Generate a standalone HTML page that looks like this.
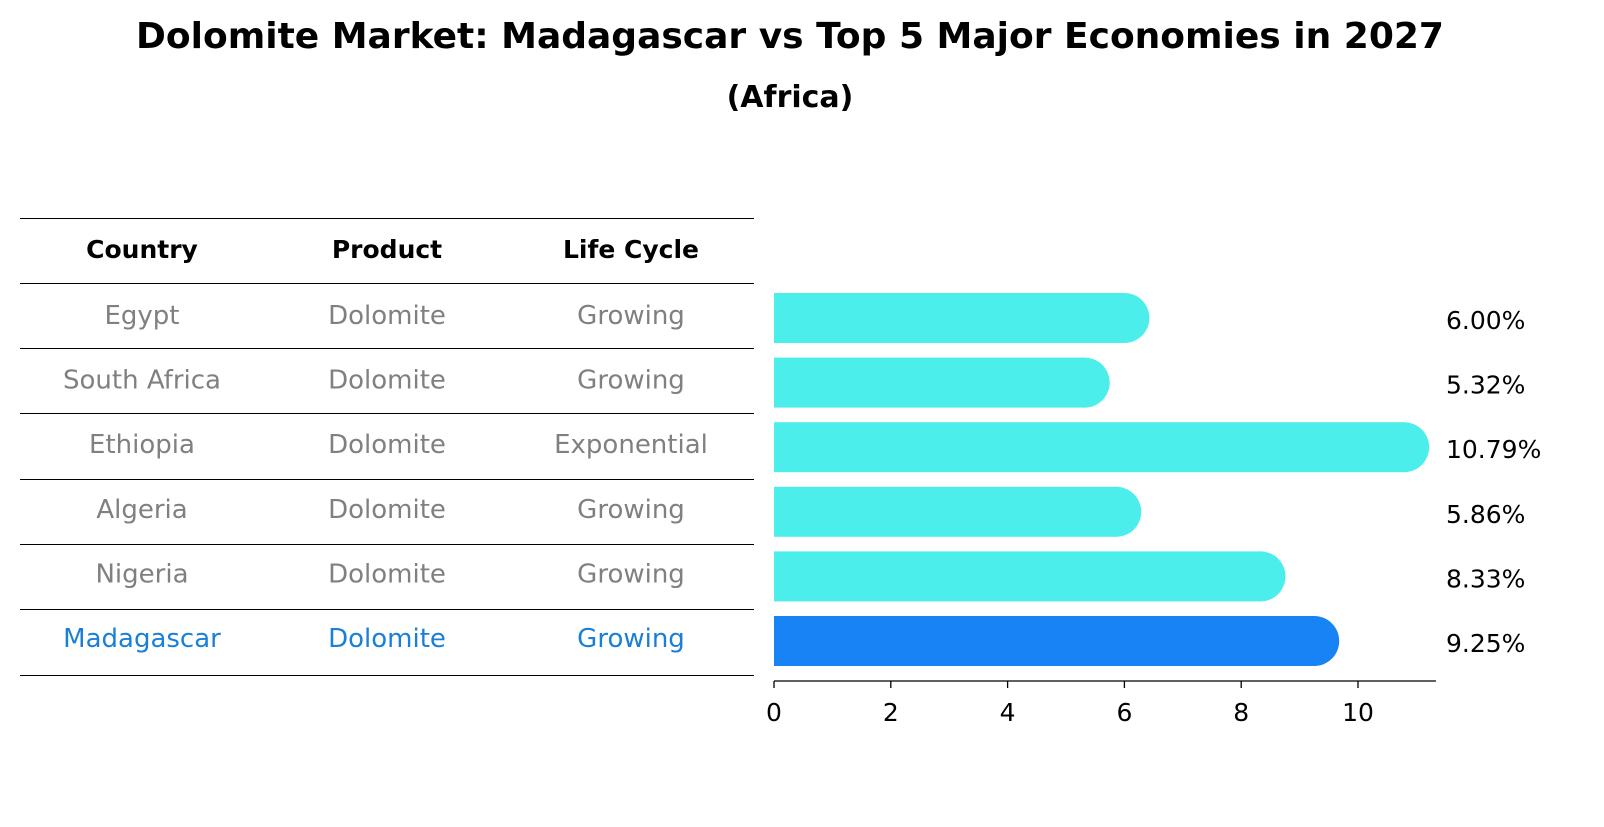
<!DOCTYPE html>
<html><head><meta charset="utf-8"><style>
body{margin:0;background:#fff;width:1604px;height:823px;overflow:hidden;font-family:"DejaVu Sans","Liberation Sans",sans-serif}
</style></head><body>
<svg width="1604" height="823" viewBox="0 0 1604 823" font-family="DejaVu Sans, Liberation Sans, sans-serif">
<text x="790" y="48" text-anchor="middle" font-size="36" font-weight="bold">Dolomite Market: Madagascar vs Top 5 Major Economies in 2027</text>
<text x="790" y="107" text-anchor="middle" font-size="30" font-weight="bold">(Africa)</text>
<g id="table"></g>
<g id="bars"></g>
</svg>
<script>
const countries=["Egypt","South Africa","Ethiopia","Algeria","Nigeria","Madagascar"];
const products=["Dolomite","Dolomite","Dolomite","Dolomite","Dolomite","Dolomite"];
const lifeCycles=["Growing","Growing","Exponential","Growing","Growing","Growing"];
const values=[6.00,5.32,10.79,5.86,8.33,9.25];
const xTicks=[0,2,4,6,8,10];
const NS="http://www.w3.org/2000/svg";
function mk(tag,attrs,parent){const e=document.createElementNS(NS,tag);for(const k in attrs)e.setAttribute(k,attrs[k]);parent.appendChild(e);return e;}
const x=v=>774+v*58.4;
const rowY=i=>318+i*64.6;
const tbl=document.getElementById('table');
const lineYs=[218.5,283.5,348.5,413.5,479.5,544.5,609.5,675.5];
lineYs.forEach(y=>{const l=mk('line',{x1:20,x2:754,y1:y,y2:y,stroke:'#000','stroke-width':1,'shape-rendering':'crispEdges'},tbl);

});
const cols=[142,387,631];
["Country","Product","Life Cycle"].forEach((h,j)=>{const t=mk('text',{x:cols[j],y:258,'text-anchor':'middle','font-size':25,'font-weight':'bold'},tbl);t.textContent=h;

});
countries.forEach((c,i)=>{const col=c==="Madagascar"?'#1a7fd9':'#808080';
[c,products[i],lifeCycles[i]].forEach((s,j)=>{const t=mk('text',{x:cols[j],y:rowY(i)+6,'text-anchor':'middle','font-size':26,fill:col},tbl);t.textContent=s;

});});
const bars=document.getElementById('bars');
values.forEach((v,i)=>{const col=countries[i]==="Madagascar"?'#1783f5':'#4beeea';
const g=mk('g',{},bars);


mk('rect',{x:x(0),y:rowY(i)-25,width:x(v)-x(0),height:50,fill:col},g);
mk('circle',{cx:x(v),cy:rowY(i),r:25,fill:col},g);
const t=mk('text',{x:1446,y:rowY(i)+11,'font-size':25},bars);t.textContent=v.toFixed(2)+'%';

});
const ax=mk('line',{x1:774,x2:1436,y1:681,y2:681,stroke:'#000','stroke-width':1.3},bars);


xTicks.forEach(v=>{const tk=mk('line',{x1:x(v),x2:x(v),y1:681,y2:688,stroke:'#000','stroke-width':1.3},bars);


const t=mk('text',{x:x(v),y:721,'text-anchor':'middle','font-size':25},bars);t.textContent=v;

});
</script>
</body></html>
